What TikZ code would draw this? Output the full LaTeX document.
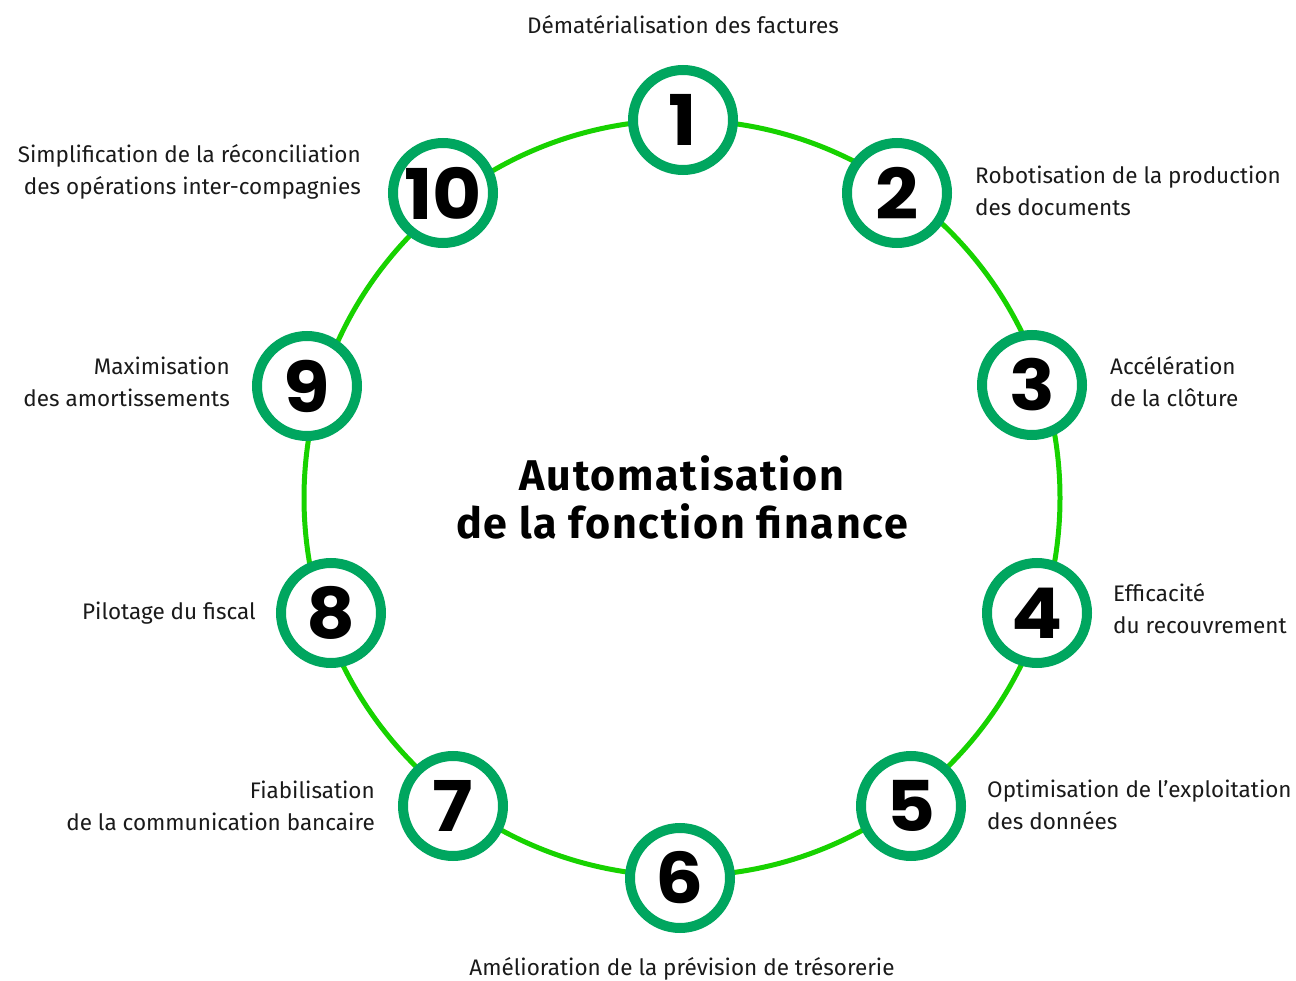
\documentclass[tikz,border=0pt]{standalone}
\usepackage{fontspec}
\setmainfont{Fira Sans}
\newfontfamily\digitfont{Poppins}[FakeStretch=1.08]
\newfontfamily\headfont{Fira Sans}[LetterSpace=4]
\usetikzlibrary{calc}
\definecolor{ringgreen}{HTML}{00A65F}
\definecolor{linegreen}{HTML}{17D200}
\definecolor{ink}{HTML}{1A1A1A}
\tikzset{
  numnode/.style={circle, draw=ringgreen, line width=10pt, fill=white,
    minimum size=100pt, inner sep=0pt,
    font=\digitfont\bfseries\fontsize{70}{70}\selectfont},
  lbl/.style={inner sep=0pt, font=\fontsize{22.5}{32}\selectfont, text=ink},
  titletext/.style={inner sep=0pt, align=center,
    font=\headfont\bfseries\fontsize{43}{48}\selectfont},
  cycle/.style={draw=linegreen, line width=5pt}
}
\begin{document}
\begin{tikzpicture}[x=1pt,y=-1pt]
  \useasboundingbox (0,0) rectangle (1296,981);
  \coordinate (c) at (682,498);
  % the green cycle behind the numbered steps
  \draw[cycle] (c) circle (378pt);
  % ten numbered steps around the cycle
  \node[numnode] (n1)  at (683,120) {1};
  \node[numnode] (n2)  at (897,193) {2};
  \node[numnode] (n3)  at (1032,385) {3};
  \node[numnode] (n4)  at (1037,613) {4};
  \node[numnode] (n5)  at (911,806) {5};
  \node[numnode] (n6)  at (680,878) {6};
  \node[numnode] (n7)  at (453,806) {7};
  \node[numnode] (n8)  at (331,613) {8};
  \node[numnode] (n9)  at (307,386) {9};
  \node[numnode] (n10) at (443,193) {10};
  % centre title
  \node[titletext] (title) at (682,497) {Automatisation\\de la fonction finance};
  % step labels
  \node[lbl, anchor=base] (t1) at (683,34) {Dématérialisation des factures};
  \node[lbl, anchor=west, align=left] (t2) at (975,191) {Robotisation de la production\\des documents};
  \node[lbl, anchor=west, align=left] (t3) at (1110,382) {Accélération\\de la clôture};
  \node[lbl, anchor=west, align=left] (t4) at (1113,609) {Efficacité\\du recouvrement};
  \node[lbl, anchor=west, align=left] (t5) at (987,805) {Optimisation de l’exploitation\\des données};
  \node[lbl, anchor=base] (t6) at (682,975) {Amélioration de la prévision de trésorerie};
  \node[lbl, anchor=east, align=right] (t7) at (375,806) {Fiabilisation\\de la communication bancaire};
  \node[lbl, anchor=east, align=right] (t8) at (256,613) {Pilotage du fiscal};
  \node[lbl, anchor=east, align=right] (t9) at (230,382) {Maximisation\\des amortissements};
  \node[lbl, anchor=east, align=right] (t10) at (361,172) {Simplification de la réconciliation\\des opérations inter-compagnies};
\end{tikzpicture}
\end{document}
